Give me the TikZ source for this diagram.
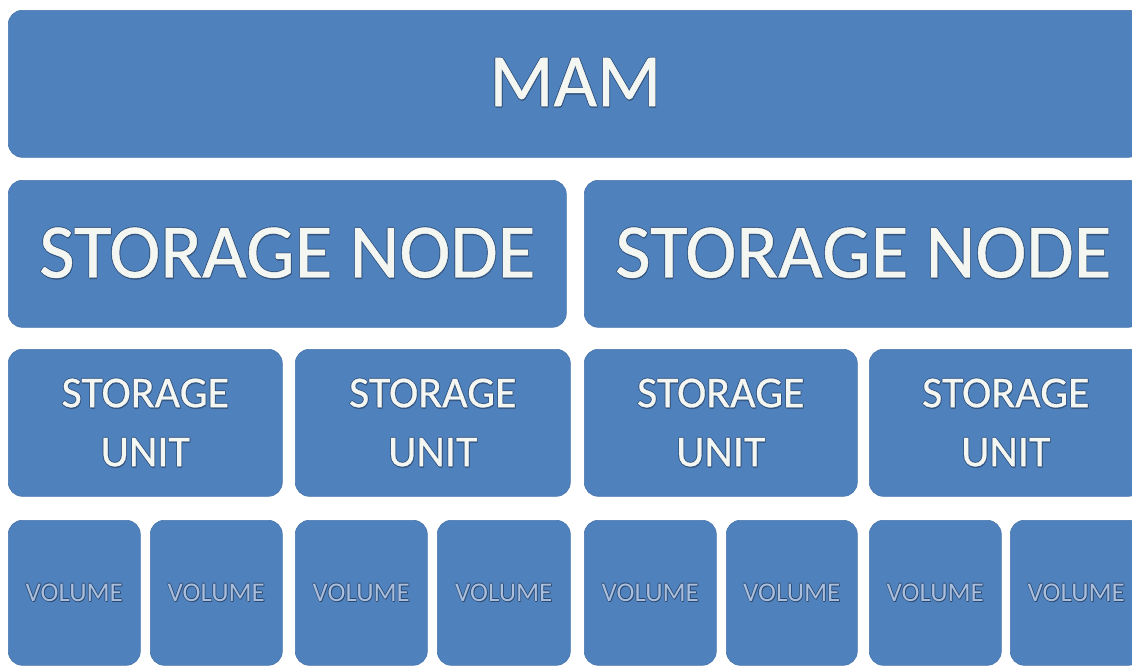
\documentclass[tikz,border=0pt]{standalone}
\usepackage{fontspec}
\setmainfont{Carlito}
\newfontfamily\heavyfont[FakeBold=0.6]{Carlito}
\definecolor{boxblue}{HTML}{4F81BD}
\definecolor{boxedge}{HTML}{4876AD}
\definecolor{txtfill}{HTML}{F4F6F2}
\definecolor{txtshade}{HTML}{34557F}
\definecolor{volfill}{HTML}{A9BFDD}
\definecolor{voledge}{HTML}{2A4870}
\newcommand\glowtxt[4]{% #1 outline, #2 fill, #3 offset, #4 text
  \leavevmode
  \rlap{\kern-#3\textcolor{#1}{#4}}%
  \rlap{\kern#3\textcolor{#1}{#4}}%
  \rlap{\raisebox{#3}{\textcolor{#1}{#4}}}%
  \rlap{\raisebox{-#3}{\textcolor{#1}{#4}}}%
  \rlap{\kern0.6pt\raisebox{-1.4pt}{\textcolor{#1}{#4}}}%
  \textcolor{#2}{#4}}
\newcommand\bigtxt[1]{\glowtxt{txtshade}{txtfill}{0.9pt}{#1}}
\newcommand\voltxt[1]{\glowtxt{voledge}{volfill}{0.7pt}{#1}}
\tikzset{
  blk/.style={rectangle, rounded corners=14pt, fill=boxblue, draw=boxedge, line width=0.6pt,
    inner sep=0pt, anchor=north west, align=center},
  mamfont/.style={font=\heavyfont\fontsize{75}{80}\selectfont},
  nodefont/.style={font=\heavyfont\fontsize{77}{80}\selectfont},
  unitfont/.style={font=\heavyfont\fontsize{44}{59}\selectfont},
  volfont/.style={font=\fontsize{27}{30}\selectfont},
}
\begin{document}
\begin{tikzpicture}[x=1pt,y=-1pt]
\useasboundingbox (0,0) rectangle (1132,665);
\clip (0,0) rectangle (1132,665);
\fill[white] (0,0) rectangle (1132,665);
% MAM
\node[blk, mamfont, minimum width=1134pt, minimum height=147pt] (mam) at (8,10) {\raisebox{4.5pt}{\bigtxt{MAM}}};
% storage nodes
\node[blk, nodefont, minimum width=558pt, minimum height=147pt] (sn1) at (8,180) {\raisebox{3.5pt}{\bigtxt{STORAGE NODE}}};
\node[blk, nodefont, minimum width=558pt, minimum height=147pt] (sn2) at (584,180) {\raisebox{3.5pt}{\bigtxt{STORAGE NODE}}};
% storage units
\node[blk, unitfont, minimum width=274pt, minimum height=147pt] (su1) at (8,349) {\bigtxt{STORAGE}\\\bigtxt{UNIT}};
\node[blk, unitfont, minimum width=275pt, minimum height=147pt] (su2) at (295,349) {\bigtxt{STORAGE}\\\bigtxt{UNIT}};
\node[blk, unitfont, minimum width=273pt, minimum height=147pt] (su3) at (584,349) {\bigtxt{STORAGE}\\\bigtxt{UNIT}};
\node[blk, unitfont, minimum width=273pt, minimum height=147pt] (su4) at (869,349) {\bigtxt{STORAGE}\\\bigtxt{UNIT}};
% volumes
\node[blk, volfont, minimum width=132pt, minimum height=145pt] (v1) at (8,520) {\voltxt{VOLUME}};
\node[blk, volfont, minimum width=132pt, minimum height=145pt] (v2) at (150,520) {\voltxt{VOLUME}};
\node[blk, volfont, minimum width=132pt, minimum height=145pt] (v3) at (295,520) {\voltxt{VOLUME}};
\node[blk, volfont, minimum width=133pt, minimum height=145pt] (v4) at (437,520) {\voltxt{VOLUME}};
\node[blk, volfont, minimum width=132pt, minimum height=145pt] (v5) at (584,520) {\voltxt{VOLUME}};
\node[blk, volfont, minimum width=131pt, minimum height=145pt] (v6) at (726,520) {\voltxt{VOLUME}};
\node[blk, volfont, minimum width=132pt, minimum height=145pt] (v7) at (869,520) {\voltxt{VOLUME}};
\node[blk, volfont, minimum width=132pt, minimum height=145pt] (v8) at (1010,520) {\voltxt{VOLUME}};
\end{tikzpicture}
\end{document}
